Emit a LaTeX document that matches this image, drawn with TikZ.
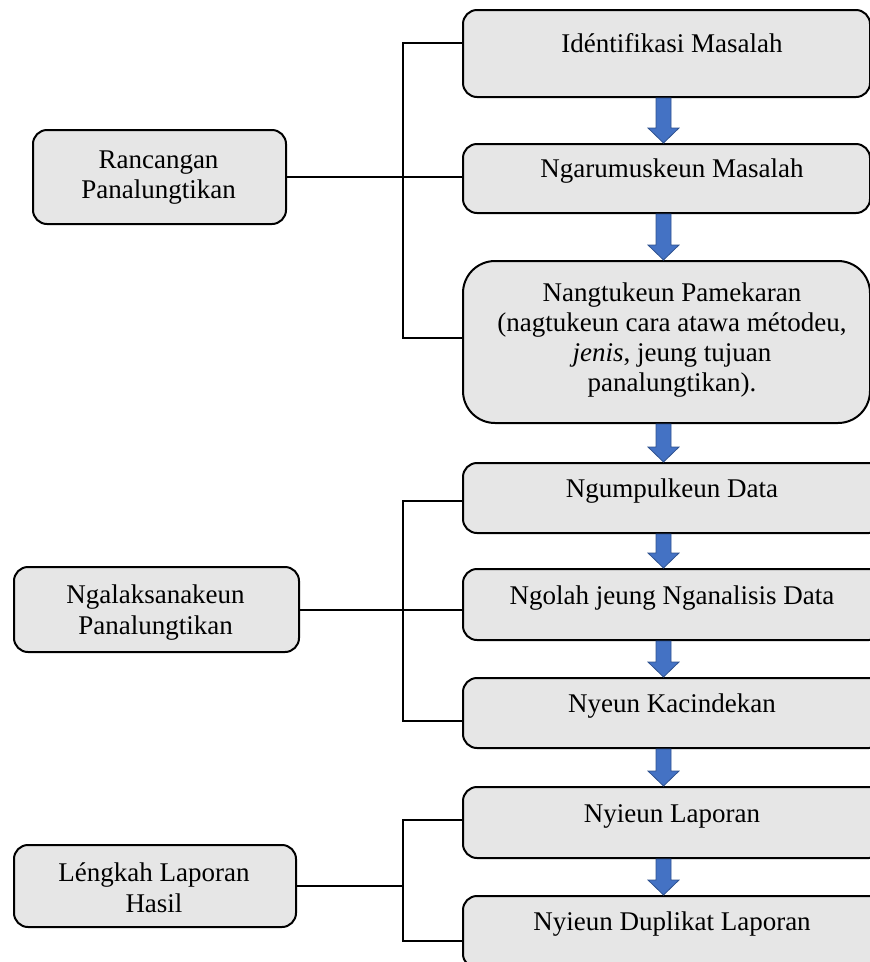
\documentclass[tikz,border=0pt]{standalone}
\usepackage{fontspec}
\setmainfont{Liberation Serif}
\usetikzlibrary{calc}
\definecolor{boxfill}{HTML}{E6E6E6}
\definecolor{arrfill}{HTML}{4472C4}
\definecolor{arrline}{HTML}{2F528F}
\tikzset{
  box/.style={draw=black, fill=boxfill, line width=2pt, rounded corners=14pt,
    rectangle, inner sep=0pt, anchor=north west},
  txt/.style={anchor=base, inner sep=0pt, align=center,
    font=\fontsize{27}{30}\selectfont},
  link/.style={draw=black, line width=2pt},
  arrowshape/.style={fill=arrfill, draw=arrline, line width=0.8pt, line join=miter}
}
\newcommand\blockarr[2]{%
  \path[arrowshape] let \p1=(#1.south), \p2=(#2.north) in
    (656pt,\y1) -- (671pt,\y1) -- (671pt,\y2+15pt) -- (679pt,\y2+15pt) --
    (663.5pt,\y2) -- (648pt,\y2+15pt) -- (656pt,\y2+15pt) -- cycle;}
\begin{document}
\begin{tikzpicture}[x=1pt,y=-1pt]
\useasboundingbox (0,0) rectangle (870,962);
\clip (0,0) rectangle (870,962);
% right column boxes
\node[box, minimum width=407, minimum height=87] (b1) at (462,9) {};
\node[box, minimum width=407, minimum height=69] (b2) at (462,143) {};
\node[box, minimum width=407, minimum height=162, rounded corners=32pt] (b3) at (462,260) {};
\node[box, minimum width=420, minimum height=70] (b4) at (462,462) {};
\node[box, minimum width=420, minimum height=71] (b5) at (462,568) {};
\node[box, minimum width=420, minimum height=70] (b6) at (462,677) {};
\node[box, minimum width=420, minimum height=71] (b7) at (462,786) {};
\node[box, minimum width=420, minimum height=72] (b8) at (462,895) {};
% left column boxes
\node[box, minimum width=253, minimum height=94] (l1) at (32,129) {};
\node[box, minimum width=285, minimum height=85] (l2) at (13,566) {};
\node[box, minimum width=282, minimum height=82] (l3) at (13,844) {};
% texts (base anchor = baseline of the last line)
\node[txt] (t1) at (672,52) {Idéntifikasi Masalah};
\node[txt] (t2) at (672,177.5) {Ngarumuskeun Masalah};
\node[txt] (t3) at (672,391) {Nangtukeun Pamekaran\\(nagtukeun cara atawa métodeu,\\\textit{jenis}, jeung tujuan\\panalungtikan).};
\node[txt] (t4) at (672,497.5) {Ngumpulkeun Data};
\node[txt] (t5) at (672,604) {Ngolah jeung Nganalisis Data};
\node[txt] (t6) at (672,712.5) {Nyeun Kacindekan};
\node[txt] (t7) at (672,822.5) {Nyieun Laporan};
\node[txt] (t8) at (672,930.5) {Nyieun Duplikat Laporan};
\node[txt] (s1) at (158.5,198) {Rancangan\\Panalungtikan};
\node[txt, font=\fontsize{27}{31}\selectfont] (s2) at (155.5,634.5) {Ngalaksanakeun\\Panalungtikan};
\node[txt, font=\fontsize{27}{31}\selectfont] (s3) at (154,912) {Léngkah Laporan\\Hasil};
% block arrows
\blockarr{b1}{b2}
\blockarr{b2}{b3}
\blockarr{b3}{b4}
\blockarr{b4}{b5}
\blockarr{b5}{b6}
\blockarr{b6}{b7}
\blockarr{b7}{b8}
% brackets
\coordinate (k1a) at (403,43);
\coordinate (k1b) at (403,338);
\coordinate (k2a) at (403,501);
\coordinate (k2b) at (403,721);
\coordinate (k3a) at (403,820);
\coordinate (k3b) at (403,941);
\draw[link] (b1.west |- k1a) -- (k1a) -- (k1b) -- (b3.west |- k1b);
\draw[link] (l1.east) -- (l1.east -| b2.west);
\draw[link] (b4.west |- k2a) -- (k2a) -- (k2b) -- (b6.west |- k2b);
\draw[link] (l2.east) -- (l2.east -| b5.west);
\draw[link] (b7.west |- k3a) -- (k3a) -- (k3b) -- (b8.west |- k3b);
\draw[link] (l3.east) -- (l3.east -| k3a);
\end{tikzpicture}
\end{document}
